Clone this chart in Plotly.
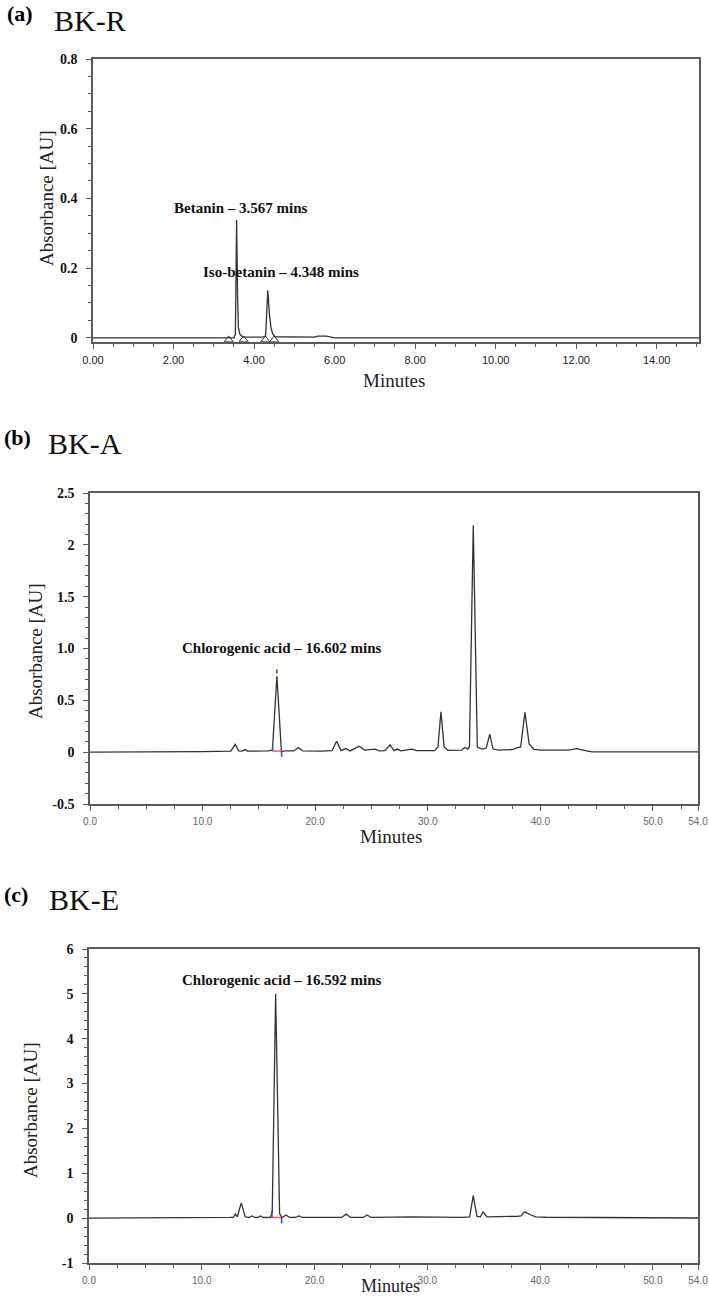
import plotly.graph_objects as go

# ---------------- data ----------------
# (a) BK-R
time_a = [0.0, 3.0, 3.50, 3.535, 3.567, 3.59, 3.61, 3.65, 3.72, 4.20, 4.27, 4.29, 4.34, 4.38, 4.42, 4.46, 4.52, 5.50, 5.58, 5.80, 5.90, 6.00, 15.05]
abs_a = [0.0, 0.0, 0.0, 0.01, 0.338, 0.12, 0.03, 0.01, 0.002, 0.002, 0.003, 0.01, 0.136, 0.07, 0.03, 0.012, 0.003, 0.002, 0.005, 0.005, 0.002, 0.0, 0.0]
events_a = [3.37, 3.74, 4.28, 4.50]

# (b) BK-A
time_b = [0.0, 5.0, 10.0, 12.5, 12.9, 13.2, 13.5, 13.77, 14.0, 15.8, 16.2, 16.6, 17.0, 17.3, 18.1, 18.5, 18.9,
          20.5, 21.5, 21.9, 22.3, 22.7, 23.1, 23.9, 24.4, 25.3, 25.7, 26.2, 26.65, 27.0, 27.3, 27.6, 28.6, 29.0,
          30.6, 30.9, 31.17, 31.45, 31.8, 33.0, 33.3, 33.55, 33.7, 34.04, 34.4, 34.8, 35.2, 35.5, 35.8, 36.3,
          37.5, 38.04, 38.25, 38.63, 39.0, 39.4, 40.0, 42.5, 43.2, 44.0, 44.6, 54.0]
abs_b = [0.0, 0.0, 0.005, 0.01, 0.075, 0.012, 0.01, 0.025, 0.01, 0.012, 0.02, 0.735, 0.005, 0.012, 0.012, 0.045, 0.012,
         0.01, 0.015, 0.105, 0.015, 0.035, 0.012, 0.058, 0.02, 0.03, 0.012, 0.015, 0.07, 0.015, 0.03, 0.012, 0.03, 0.015,
         0.015, 0.05, 0.39, 0.05, 0.018, 0.02, 0.045, 0.03, 0.05, 2.19, 0.05, 0.03, 0.04, 0.175, 0.03, 0.02,
         0.025, 0.045, 0.05, 0.385, 0.08, 0.03, 0.02, 0.02, 0.035, 0.015, 0.002, 0.002]
integ_b = dict(start=16.22, end=17.02, apex=16.6, base=0.01,
               start_top=0.06, end_bottom=-0.045, apex_lo=0.76, apex_hi=0.80)

# (c) BK-E
time_c = [0.0, 3.0, 3.2, 3.4, 10.0, 12.5, 12.8, 12.97, 13.15, 13.5, 13.85, 14.2, 14.45, 14.7, 15.0, 15.2, 15.45,
          16.1, 16.25, 16.55, 16.9, 17.1, 17.46, 17.8, 18.3, 18.6, 18.9, 20.0, 22.4, 22.8, 23.2, 24.3, 24.66, 25.0,
          27.56, 28.7, 33.0, 33.75, 34.07, 34.4, 34.7, 34.95, 35.3, 37.5, 37.98, 38.3, 38.63, 39.2, 39.6, 40.5,
          44.0, 44.7, 54.0]
abs_c = [0.0, 0.0, 0.012, 0.0, 0.01, 0.015, 0.02, 0.09, 0.03, 0.34, 0.03, 0.015, 0.05, 0.015, 0.015, 0.05, 0.015,
         0.02, 0.15, 5.0, 0.1, 0.01, 0.07, 0.015, 0.015, 0.05, 0.015, 0.01, 0.015, 0.09, 0.015, 0.015, 0.07, 0.015,
         0.03, 0.03, 0.015, 0.03, 0.5, 0.04, 0.03, 0.14, 0.03, 0.025, 0.04, 0.05, 0.14, 0.07, 0.03, 0.02,
         0.015, 0.003, 0.003]
integ_c = dict(start=16.22, end=17.08, base=0.015, start_top=0.16, end_bottom=-0.12)

# ticks / labels
xt_a = [0, 2, 4, 6, 8, 10, 12, 14]
xt_a_text = ["0.00", "2.00", "4.00", "6.00", "8.00", "10.00", "12.00", "14.00"]
yt_a = [0, 0.2, 0.4, 0.6, 0.8]
yt_a_text = ["0", "0.2", "0.4", "0.6", "0.8"]
xt_bc = [0, 10, 20, 30, 40, 50, 54]
xt_bc_text = ["0.0", "10.0", "20.0", "30.0", "40.0", "50.0", "54.0"]
yt_b = [-0.5, 0, 0.5, 1.0, 1.5, 2.0, 2.5]
yt_b_text = ["-0.5", "0", "0.5", "1.0", "1.5", "2", "2.5"]
yt_c = [-1, 0, 1, 2, 3, 4, 5, 6]
yt_c_text = ["-1", "0", "1", "2", "3", "4", "5", "6"]

peak_labels = [
    ("x", "y", 3.68, 0.373, "Betanin \u2013 3.567 mins"),
    ("x", "y", 4.67, 0.189, "Iso-betanin \u2013 4.348 mins"),
    ("x2", "y2", 17.0, 1.007, "Chlorogenic acid \u2013 16.602 mins"),
    ("x3", "y3", 17.05, 5.32, "Chlorogenic acid \u2013 16.592 mins"),
]

# ---------------- figure ----------------
W, H = 709, 1297
def fx(p):
    return p / W
def fy(p):
    return 1 - p / H

SERIF = "Liberation Serif"
SANS = "Liberation Sans"
LINE = "#5a5a5a"
TRACE = "#333333"

fig = go.Figure()
fig.add_trace(go.Scatter(x=time_a, y=abs_a, mode="lines", line=dict(color=TRACE, width=1.3),
                         xaxis="x", yaxis="y", hoverinfo="skip"))
fig.add_trace(go.Scatter(x=events_a, y=[-0.006] * len(events_a), mode="markers",
                         marker=dict(symbol="triangle-up-open", size=8, color=TRACE, line=dict(width=1)),
                         xaxis="x", yaxis="y", hoverinfo="skip"))
fig.add_trace(go.Scatter(x=time_b, y=abs_b, mode="lines", line=dict(color=TRACE, width=1.3),
                         xaxis="x2", yaxis="y2", hoverinfo="skip"))
fig.add_trace(go.Scatter(x=time_c, y=abs_c, mode="lines", line=dict(color=TRACE, width=1.3),
                         xaxis="x3", yaxis="y3", hoverinfo="skip"))

# integration markers (b)
fig.add_trace(go.Scatter(x=[integ_b["start"], integ_b["end"]], y=[integ_b["base"], integ_b["base"]], mode="lines",
                         line=dict(color="#ff5a5a", width=1.5), xaxis="x2", yaxis="y2", hoverinfo="skip"))
fig.add_trace(go.Scatter(
    x=[integ_b["start"], integ_b["start"], None, integ_b["end"], integ_b["end"], None, integ_b["apex"], integ_b["apex"]],
    y=[integ_b["base"], integ_b["start_top"], None, integ_b["base"], integ_b["end_bottom"], None, integ_b["apex_lo"], integ_b["apex_hi"]],
    mode="lines", line=dict(color="#3a3aff", width=1.5), xaxis="x2", yaxis="y2", hoverinfo="skip"))
# integration markers (c)
fig.add_trace(go.Scatter(x=[integ_c["start"], integ_c["end"]], y=[integ_c["base"], integ_c["base"]], mode="lines",
                         line=dict(color="#ff5a5a", width=1.5), xaxis="x3", yaxis="y3", hoverinfo="skip"))
fig.add_trace(go.Scatter(
    x=[integ_c["start"], integ_c["start"], None, integ_c["end"], integ_c["end"]],
    y=[integ_c["base"], integ_c["start_top"], None, integ_c["base"], integ_c["end_bottom"]],
    mode="lines", line=dict(color="#3a3aff", width=1.5), xaxis="x3", yaxis="y3", hoverinfo="skip"))

def xaxis_common(tv, tt, rng, dom, anchor, minor_dt, fsize, fcolor):
    return dict(domain=dom, range=rng, anchor=anchor, tickmode="array", tickvals=tv, ticktext=tt,
                ticks="outside", ticklen=5, tickwidth=1, tickcolor=LINE, automargin=False,
                minor=dict(dtick=minor_dt, tick0=0, ticks="outside", ticklen=3, tickcolor=LINE, tickwidth=1),
                showline=True, mirror=True, linecolor=LINE, linewidth=1.6,
                showgrid=False, zeroline=False,
                tickfont=dict(family=SANS, size=fsize, color=fcolor), ticklabelstandoff=2)

def yaxis_common(tv, tt, rng, dom, anchor, minor_dt):
    return dict(domain=dom, range=rng, anchor=anchor, tickmode="array", tickvals=tv, ticktext=tt,
                ticks="outside", ticklen=5, tickwidth=1, tickcolor=LINE, automargin=False,
                minor=dict(dtick=minor_dt, tick0=0, ticks="outside", ticklen=3, tickcolor=LINE, tickwidth=1),
                showline=True, mirror=True, linecolor=LINE, linewidth=1.6,
                showgrid=False, zeroline=False,
                tickfont=dict(family=SERIF, size=14, color="#111", weight="bold"), ticklabelstandoff=6)

fig.update_layout(
    width=W, height=H, margin=dict(l=0, r=0, t=0, b=0, autoexpand=False),
    paper_bgcolor="white", plot_bgcolor="white", showlegend=False,
    xaxis=xaxis_common(xt_a, xt_a_text, [0, 15.05], [fx(93), fx(699)], "y", 0.5, 11, "#222"),
    yaxis=yaxis_common(yt_a, yt_a_text, [-0.012, 0.8], [fy(342), fy(59)], "x", 0.05),
    xaxis2=xaxis_common(xt_bc, xt_bc_text, [0, 54], [fx(90), fx(698)], "y2", 2.5, 10, "#666"),
    yaxis2=yaxis_common(yt_b, yt_b_text, [-0.5, 2.5], [fy(804), fy(493)], "x2", 0.1),
    xaxis3=xaxis_common(xt_bc, xt_bc_text, [0, 54], [fx(89), fx(698)], "y3", 2.5, 10, "#666"),
    yaxis3=yaxis_common(yt_c, yt_c_text, [-1, 6], [fy(1263), fy(949)], "x3", 0.2),
)

ann = []
# panel labels
for lab, name, cx1, cx2, cy in [("(a)", "BK-R", 20, 90, 17), ("(b)", "BK-A", 17, 85, 440), ("(c)", "BK-E", 16, 84, 897)]:
    ann.append(dict(text=lab, x=fx(cx1), y=fy(cy - 3), xref="paper", yref="paper", showarrow=False,
                    xanchor="center", yanchor="middle", font=dict(family=SERIF, size=22, color="#000", weight="bold")))
    ann.append(dict(text=name, x=fx(cx2), y=fy(cy + 3), xref="paper", yref="paper", showarrow=False,
                    xanchor="center", yanchor="middle", font=dict(family=SERIF, size=30, color="#111")))
# axis titles
for cx, cy in [(46, 198), (35, 651), (30, 1110)]:
    ann.append(dict(text="Absorbance [AU]", x=fx(cx), y=fy(cy), xref="paper", yref="paper", showarrow=False,
                    textangle=-90, xanchor="center", yanchor="middle", font=dict(family=SERIF, size=19, color="#222")))
for cx, cy, fs in [(394, 380, 19), (391, 837, 19), (390, 1286, 18)]:
    ann.append(dict(text="Minutes", x=fx(cx), y=fy(cy), xref="paper", yref="paper", showarrow=False,
                    xanchor="center", yanchor="middle", font=dict(family=SERIF, size=fs, color="#222")))
# peak labels
for xr, yr, x, y, t in peak_labels:
    ann.append(dict(text=t, x=x, y=y, xref=xr, yref=yr, showarrow=False, xanchor="center", yanchor="middle",
                    font=dict(family=SERIF, size=15, color="#111", weight="bold")))
fig.update_layout(annotations=ann)

fig.write_html("out.html")
